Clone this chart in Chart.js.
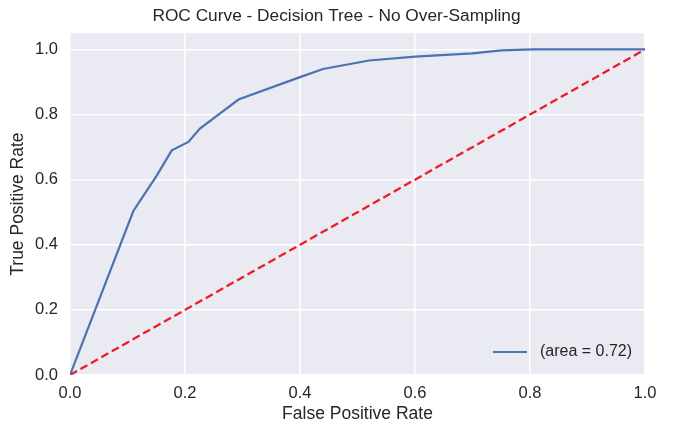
<!DOCTYPE html>
<html>
<head>
<meta charset="utf-8">
<script src="https://cdn.jsdelivr.net/npm/chart.js@4"></script>
<style>
  html, body { margin: 0; padding: 0; background: #fff; }
  #wrap { width: 673px; height: 429px; }
</style>
</head>
<body>
<div id="wrap"><canvas id="rocChart"></canvas></div>
<script>
// ROC curve
const fpr = [0.0, 0.11, 0.12, 0.15, 0.177, 0.206, 0.226, 0.293, 0.40, 0.44, 0.52, 0.60, 0.70, 0.75, 0.806, 1.0];
const tpr = [0.0, 0.503, 0.53, 0.61, 0.69, 0.716, 0.757, 0.846, 0.915, 0.94, 0.966, 0.978, 0.988, 0.997, 1.0, 1.0];
const chanceX = [0, 1];
const chanceY = [0, 1];
const xTicks = [0, 0.2, 0.4, 0.6, 0.8, 1.0];
const yTicks = [0, 0.2, 0.4, 0.6, 0.8, 1.0];
const rocLabel = '(area = 0.72)';

const textColor = '#262626';
const font = 'Liberation Sans, Arial, sans-serif';

const bgPlugin = {
    id: 'bgPlugin',
    beforeDraw(chart) {
        const a = chart.chartArea;
        const ctx = chart.ctx;
        ctx.save();
        ctx.fillStyle = '#EAEAF2';
        ctx.fillRect(a.left, a.top, a.right - a.left, a.bottom - a.top);
        ctx.restore();
    }
};

// legend in lower right, inside the axes, like matplotlib loc='lower right'
const innerLegend = {
    id: 'innerLegend',
    afterDraw(chart) {
        const a = chart.chartArea;
        const ctx = chart.ctx;
        const ds = chart.data.datasets[0];
        ctx.save();
        ctx.font = '16px ' + font;
        const w = ctx.measureText(ds.label).width;
        const tx = a.right - 13 - w;
        const y = a.bottom - 23;
        ctx.strokeStyle = ds.borderColor;
        ctx.lineWidth = 2.2;
        ctx.beginPath();
        ctx.moveTo(tx - 47, y);
        ctx.lineTo(tx - 13, y);
        ctx.stroke();
        ctx.fillStyle = textColor;
        ctx.textBaseline = 'middle';
        ctx.fillText(ds.label, tx, y);
        ctx.restore();
    }
};

new Chart('rocChart', {
    type: 'scatter',
    data: {
        datasets: [{
            label: rocLabel,
            data: fpr.map((x, i) => ({ x: x, y: tpr[i] })),
            showLine: true,
            borderColor: '#4C72B0',
            borderWidth: 2.2,
            pointRadius: 0,
            tension: 0
        }, {
            label: 'chance',
            data: chanceX.map((x, i) => ({ x: x, y: chanceY[i] })),
            showLine: true,
            borderColor: '#EE1C24',
            borderWidth: 2.3,
            borderDash: [8, 4],
            pointRadius: 0
        }]
    },
    options: {
        responsive: true,
        maintainAspectRatio: false,
        animation: false,
        layout: { padding: 0 },
        plugins: {
            legend: { display: false },
            tooltip: { enabled: false },
            title: {
                display: true,
                text: 'ROC Curve - Decision Tree - No Over-Sampling',
                color: textColor,
                font: { family: font, size: 17.3, weight: 'normal' },
                padding: { top: 6, bottom: 6.4 }
            }
        },
        scales: {
            x: {
                type: 'linear',
                min: 0,
                max: 1,
                afterBuildTicks: s => { s.ticks = xTicks.map(v => ({ value: v })); },
                afterFit: s => { s.height = 54; },
                border: { display: false },
                grid: { color: '#ffffff', lineWidth: 1.5, drawTicks: false },
                ticks: {
                    color: textColor,
                    padding: 9,
                    font: { family: font, size: 16.5 },
                    callback: v => v.toFixed(1)
                },
                title: {
                    display: true,
                    text: 'False Positive Rate',
                    color: textColor,
                    font: { family: font, size: 17.5 },
                    padding: { top: 0, bottom: 4 }
                }
            },
            y: {
                type: 'linear',
                min: 0,
                max: 1.05,
                afterBuildTicks: s => { s.ticks = yTicks.map(v => ({ value: v })); },
                afterFit: s => { s.width = 70; },
                border: { display: false },
                grid: { color: '#ffffff', lineWidth: 1.5, drawTicks: false },
                ticks: {
                    color: textColor,
                    padding: 12,
                    font: { family: font, size: 16.5 },
                    callback: v => v.toFixed(1)
                },
                title: {
                    display: true,
                    text: 'True Positive Rate',
                    color: textColor,
                    font: { family: font, size: 17.5 },
                    padding: { top: 8, bottom: 0 }
                }
            },
            // empty right-hand margin so the title centres on the full canvas
            yRight: {
                type: 'linear',
                position: 'right',
                min: 0,
                max: 1,
                afterFit: s => { s.width = 28; },
                border: { display: false },
                grid: { display: false },
                ticks: { display: false }
            }
        }
    },
    plugins: [bgPlugin, innerLegend]
});
</script>
</body>
</html>
